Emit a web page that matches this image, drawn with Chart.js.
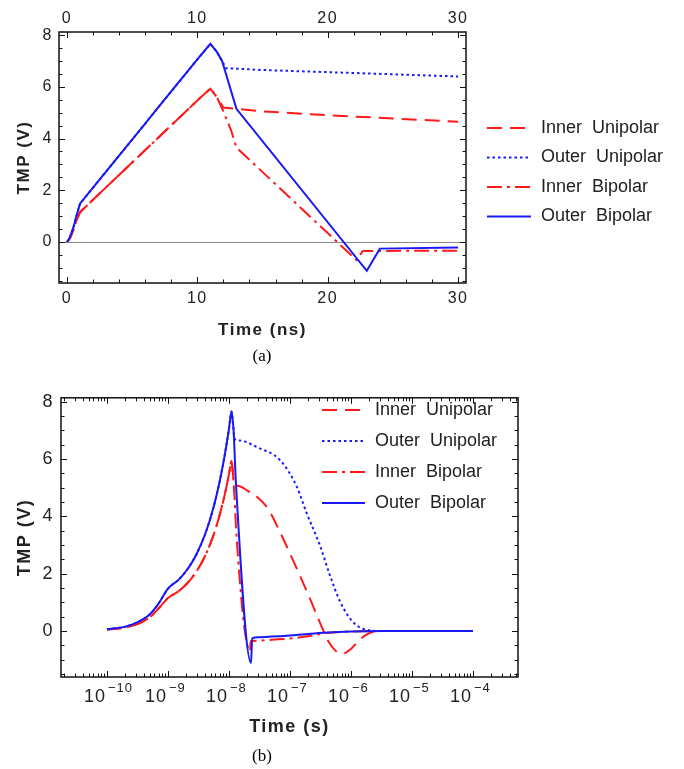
<!DOCTYPE html>
<html>
<head>
<meta charset="utf-8">
<script src="https://cdn.jsdelivr.net/npm/chart.js@4.4.0/dist/chart.umd.min.js"></script>
<style>
html, body { margin: 0; padding: 0; background: #fff; }
#wrapA { position: absolute; left: 0; top: 0; width: 684px; height: 370px; }
#wrapB { position: absolute; left: 0; top: 380px; width: 684px; height: 389px; }
</style>
</head>
<body>
<div id="wrapA"><canvas id="chartA"></canvas></div>
<div id="wrapB"><canvas id="chartB"></canvas></div>
<script>
// all times in ns, values in V
const seriesNames = ['Inner Unipolar', 'Outer Unipolar', 'Inner Bipolar', 'Outer Bipolar'];

// common rising part (0 - 11 ns)
const riseT      = [0, 0.1, 0.2, 0.3, 0.5, 0.7, 1, 1.5, 2, 2.5, 3, 4, 5, 6, 7, 8, 9, 10, 11];
const innerRiseV = [0, 0.05, 0.12, 0.22, 0.47, 0.78, 1.15, 1.39, 1.63, 1.87, 2.11, 2.59, 3.07, 3.55, 4.03, 4.51, 4.99, 5.47, 5.93];
const outerRiseV = [0, 0.06, 0.15, 0.28, 0.57, 0.95, 1.48, 1.79, 2.1, 2.41, 2.72, 3.34, 3.96, 4.58, 5.2, 5.82, 6.44, 7.06, 7.66];

// after the pulse
const innerUniT = [11.5, 12, 15, 20, 30, 44, 78, 129, 210, 330, 430, 550, 710, 1000, 1400, 1900, 2800, 100000];
const innerUniV = [5.6, 5.2, 5.05, 4.9, 4.65, 4.25, 3.2, 2.18, 1.15, 0.15, -0.38, -0.68, -0.8, -0.63, -0.3, -0.1, 0, 0];
const outerUniT = [11.5, 11.9, 12.2, 15, 30, 69, 129, 187, 310, 450, 660, 1100, 2000, 2800, 100000];
const outerUniV = [7.35, 7.0, 6.72, 6.65, 6.4, 5.96, 5.04, 4.12, 2.98, 1.95, 1.03, 0.29, 0.02, 0, 0];
const innerBiT  = [11.5, 12, 12.6, 13, 22.2, 22.7, 30, 50, 130, 250, 400, 1000, 3500, 100000];
const innerBiV  = [5.6, 5.05, 4.3, 3.65, -0.7, -0.35, -0.34, -0.31, -0.24, -0.15, -0.07, -0.02, 0, 0];
const outerBiT  = [11.5, 11.9, 13, 23, 24, 30, 50, 100, 200, 400, 1000, 3500, 100000];
const outerBiV  = [7.35, 7.0, 5.15, -1.12, -0.26, -0.22, -0.2, -0.16, -0.11, -0.06, -0.02, 0, 0];

const xTicksA = [0, 10, 20, 30];
const yTicks = [0, 2, 4, 6, 8];
const decadesB = [-10, -9, -8, -7, -6, -5, -4];

const RED = 'rgb(255,25,25)';
const BLUE = 'rgb(25,25,245)';
const styles = [
  {color: RED, dash: [15, 8], order: 3},
  {color: BLUE, dash: [2.5, 3], order: 2},
  {color: RED, dash: [15, 5, 3, 5], order: 1},
  {color: BLUE, dash: [], order: 0}
];
const seriesT = [riseT.concat(innerUniT), riseT.concat(outerUniT), riseT.concat(innerBiT), riseT.concat(outerBiT)];
const seriesV = [innerRiseV.concat(innerUniV), outerRiseV.concat(outerUniV), innerRiseV.concat(innerBiV), outerRiseV.concat(outerBiV)];

function makeDatasets(keep, toX, smooth) {
  return seriesNames.map((name, i) => {
    const data = [];
    seriesT[i].forEach((t, j) => {
      if (keep(t)) data.push({x: toX(t), y: seriesV[i][j]});
    });
    const ds = {
      label: name, data: data,
      borderColor: styles[i].color, borderDash: styles[i].dash,
      borderWidth: 2, pointRadius: 0, fill: false, tension: 0, order: styles[i].order
    };
    if (smooth) ds.cubicInterpolationMode = 'monotone';
    return ds;
  });
}

const txt = '#222';
const sans = '"Liberation Sans", Arial, sans-serif';

function range(a, b, step, skip) {
  const out = [];
  for (let v = a; v <= b + 1e-9; v += step) {
    const r = Math.round(v * 100) / 100;
    if (!skip.includes(r)) out.push(r);
  }
  return out;
}

const frameTicks = {
  id: 'frameTicks',
  beforeDraw(chart) {
    chart.ctx.letterSpacing = '1.5px';
  },
  beforeDatasetsDraw(chart, args, o) {
    if (!o.zeroLine) return;
    const {ctx, chartArea: a} = chart;
    const y0 = Math.round(chart.scales.y.getPixelForValue(0)) + 0.5;
    ctx.save();
    ctx.strokeStyle = '#888';
    ctx.lineWidth = 1;
    ctx.beginPath();
    ctx.moveTo(a.left, y0); ctx.lineTo(a.right, y0);
    ctx.stroke();
    ctx.restore();
  },
  afterDraw(chart, args, o) {
    const {ctx, chartArea: a} = chart;
    const xs = chart.scales.x, ys = chart.scales.y;
    ctx.save();
    ctx.letterSpacing = '0px';
    ctx.strokeStyle = '#111';
    ctx.lineWidth = 1;
    ctx.beginPath();
    const xt = (vals, len) => vals.forEach(v => {
      const p = Math.round(xs.getPixelForValue(v)) + 0.5;
      ctx.moveTo(p, a.bottom); ctx.lineTo(p, a.bottom - len);
      ctx.moveTo(p, a.top); ctx.lineTo(p, a.top + len);
    });
    const yt = (vals, len) => vals.forEach(v => {
      const p = Math.round(ys.getPixelForValue(v)) + 0.5;
      ctx.moveTo(a.left, p); ctx.lineTo(a.left + len, p);
      ctx.moveTo(a.right, p); ctx.lineTo(a.right - len, p);
    });
    xt(o.xMajor, 6); xt(o.xMinor, 3.5);
    yt(o.yMajor, 6); yt(o.yMinor, 3.5);
    ctx.stroke();
    ctx.lineWidth = 1.5;
    ctx.strokeRect(a.left, a.top, a.right - a.left, a.bottom - a.top);

    // log axis labels 10^n
    if (o.logLabels) {
      ctx.fillStyle = txt;
      ctx.textBaseline = 'middle';
      ctx.textAlign = 'left';
      ctx.letterSpacing = '1px';
      o.logLabels.forEach(n => {
        const p = xs.getPixelForValue(Math.pow(10, n));
        ctx.font = '18px ' + sans;
        const w = ctx.measureText('10').width;
        ctx.fillText('10', p - w - 1, o.logY);
        ctx.font = '13px ' + sans;
        ctx.fillText('\u2212' + Math.abs(n), p + 1, o.logY - 9);
      });
      ctx.letterSpacing = '0px';
    }

    // legend
    chart.data.datasets.forEach((ds, i) => {
      const y = o.legY + i * o.legDy;
      ctx.strokeStyle = ds.borderColor;
      ctx.lineWidth = 2;
      ctx.setLineDash(ds.borderDash);
      ctx.beginPath();
      ctx.moveTo(o.legX, y); ctx.lineTo(o.legX + o.legLen, y);
      ctx.stroke();
      ctx.setLineDash([]);
      ctx.fillStyle = txt;
      ctx.font = '18px ' + sans;
      ctx.textAlign = 'left';
      ctx.textBaseline = 'middle';
      ctx.wordSpacing = '5px';
      ctx.fillText(ds.label, o.legX + o.legLen + 10, y);
      ctx.wordSpacing = '0px';
    });

    // caption
    ctx.fillStyle = '#000';
    ctx.font = '17px "Liberation Serif", "Times New Roman", serif';
    ctx.textAlign = 'center';
    ctx.textBaseline = 'middle';
    ctx.fillText(o.caption, o.capX, o.capY);
    ctx.restore();
  }
};

const yMinor = range(-1.5, 8, 0.5, yTicks);

// ---------- (a) linear time ----------
new Chart(document.getElementById('chartA'), {
  type: 'line',
  data: {datasets: makeDatasets(t => t <= 30, t => t, false)},
  plugins: [frameTicks],
  options: {
    responsive: true, maintainAspectRatio: false, animation: false,
    layout: {padding: {right: 218}},
    plugins: {
      legend: {display: false}, tooltip: {enabled: false},
      frameTicks: {
        zeroLine: true,
        xMajor: xTicksA, xMinor: range(2, 28, 2, xTicksA),
        yMajor: yTicks, yMinor: yMinor,
        legX: 487, legLen: 44, legY: 128, legDy: 29.5,
        caption: '(a)', capX: 262, capY: 357
      }
    },
    scales: {
      x: {
        type: 'linear', position: 'bottom', min: -0.61, max: 30.61,
        afterBuildTicks: s => { s.ticks = xTicksA.map(v => ({value: v})); },
        afterFit: s => { s.height = 87; },
        grid: {display: false, drawTicks: false}, border: {display: false},
        ticks: {color: txt, font: {family: sans, size: 16}, padding: 6, maxRotation: 0, autoSkip: false},
        title: {display: true, text: 'Time (ns)', color: txt, font: {family: sans, size: 17, weight: 'bold'}, padding: {top: 0, bottom: 29}}
      },
      x2: {
        type: 'linear', position: 'top', min: -0.61, max: 30.61,
        afterBuildTicks: s => { s.ticks = xTicksA.map(v => ({value: v})); },
        afterFit: s => { s.height = 32; },
        grid: {display: false, drawTicks: false}, border: {display: false},
        ticks: {color: txt, font: {family: sans, size: 16}, padding: 4, maxRotation: 0, autoSkip: false}
      },
      y: {
        min: -1.59, max: 8.12,
        afterBuildTicks: s => { s.ticks = yTicks.map(v => ({value: v})); },
        afterFit: s => { s.width = 59; },
        grid: {display: false, drawTicks: false}, border: {display: false},
        ticks: {color: txt, font: {family: sans, size: 16}, padding: 6},
        title: {display: true, text: 'TMP (V)', color: txt, font: {family: sans, size: 17, weight: 'bold'}, padding: {top: 14, bottom: 0}}
      }
    }
  }
});

// ---------- (b) log time ----------
const xMinorB = [];
for (let n = -11; n <= -4; n++) {
  for (let k = 2; k <= 9; k++) xMinorB.push(k * Math.pow(10, n));
}
const xMinB = Math.pow(10, -10.754), xMaxB = Math.pow(10, -3.262);

new Chart(document.getElementById('chartB'), {
  type: 'line',
  data: {datasets: makeDatasets(t => t >= 0.1, t => t * 1e-9, true)},
  plugins: [frameTicks],
  options: {
    responsive: true, maintainAspectRatio: false, animation: false,
    layout: {padding: {top: 13, right: 166}},
    plugins: {
      legend: {display: false}, tooltip: {enabled: false},
      frameTicks: {
        zeroLine: false,
        xMajor: decadesB.map(n => Math.pow(10, n)),
        xMinor: xMinorB.filter(v => v > xMinB && v < xMaxB),
        yMajor: yTicks, yMinor: yMinor,
        logLabels: decadesB, logY: 317,
        legX: 322, legLen: 43, legY: 30, legDy: 31,
        caption: '(b)', capX: 262, capY: 377
      }
    },
    scales: {
      x: {
        type: 'logarithmic', position: 'bottom', min: xMinB, max: xMaxB,
        afterFit: s => { s.height = 92; },
        grid: {display: false, drawTicks: false}, border: {display: false},
        ticks: {display: false},
        title: {display: true, text: 'Time (s)', color: txt, font: {family: sans, size: 18, weight: 'bold'}, padding: {top: 0, bottom: 31}}
      },
      y: {
        min: -1.61, max: 8.14,
        afterBuildTicks: s => { s.ticks = yTicks.map(v => ({value: v})); },
        afterFit: s => { s.width = 61; },
        grid: {display: false, drawTicks: false}, border: {display: false},
        ticks: {color: txt, font: {family: sans, size: 18}, padding: 7},
        title: {display: true, text: 'TMP (V)', color: txt, font: {family: sans, size: 18, weight: 'bold'}, padding: {top: 14, bottom: 0}}
      }
    }
  }
});
</script>
</body>
</html>
